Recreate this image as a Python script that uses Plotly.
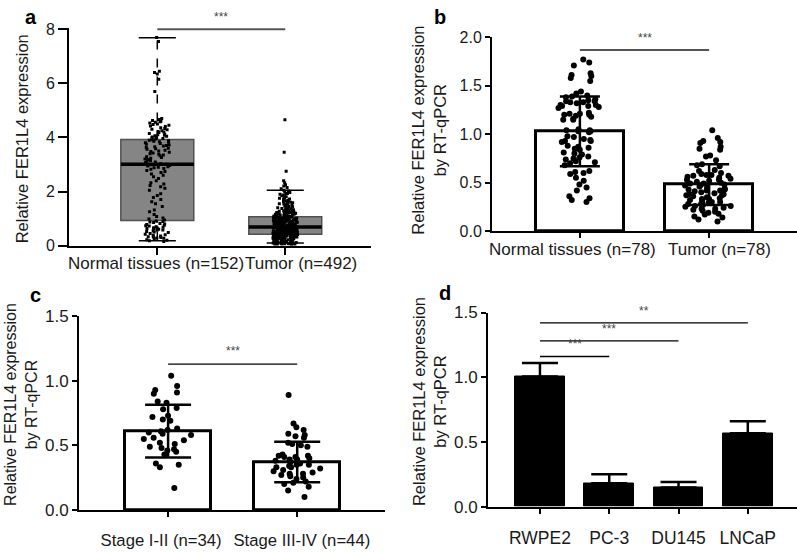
import plotly.graph_objects as go

FONT = "Liberation Sans, Arial, sans-serif"
TXT = "#1a1a1a"
NB = "\u00a0"

# ---------------- Panel a data ----------------
a_cats = ["Normal tissues (n=152)", "Tumor (n=492)"]
a_q1 = [0.93, 0.42]
a_median = [3.01, 0.69]
a_q3 = [3.92, 1.07]
a_lower = [0.18, 0.10]
a_upper = [7.69, 2.05]
a_normal = [
    0.15, 0.18, 0.20, 0.22, 0.25, 0.27, 0.28, 0.30, 0.32, 0.33, 0.35, 0.38, 0.40, 0.42, 0.45, 0.48,
    0.50, 0.52, 0.55, 0.57, 0.58, 0.60, 0.62, 0.63, 0.65, 0.66, 0.68, 0.70, 0.72, 0.73, 0.75, 0.78,
    0.80, 0.82, 0.85, 0.87, 0.89, 0.91,
    0.95, 0.98, 1.02, 1.08, 1.15, 1.25, 1.32, 1.45, 1.55, 1.62, 1.70, 1.78, 1.85, 1.92, 2.05, 2.12,
    2.18, 2.22, 2.28, 2.32, 2.40, 2.48, 2.55, 2.60, 2.65, 2.70, 2.74, 2.78, 2.82, 2.85, 2.88, 2.90,
    2.92, 2.94, 2.96, 2.97, 2.98, 2.99,
    3.01, 3.03, 3.05, 3.07, 3.09, 3.12, 3.15, 3.18, 3.20, 3.23, 3.26, 3.29, 3.32, 3.35, 3.38, 3.40,
    3.42, 3.45, 3.48, 3.50, 3.53, 3.56, 3.58, 3.60, 3.63, 3.66, 3.68, 3.70, 3.72, 3.75, 3.78, 3.80,
    3.82, 3.84, 3.86, 3.88, 3.90, 3.91,
    3.94, 3.96, 3.98, 4.00, 4.02, 4.04, 4.06, 4.08, 4.10, 4.12, 4.15, 4.18, 4.20, 4.22, 4.25, 4.28,
    4.30, 4.33, 4.36, 4.40, 4.42, 4.45, 4.48, 4.50, 4.53, 4.56, 4.58, 4.60, 4.63, 4.66, 4.70, 5.70,
    6.15, 6.35, 6.40, 6.45, 7.55, 7.70,
]
a_tumor = [
    0.02, 0.03, 0.03, 0.04, 0.05, 0.05, 0.06, 0.07, 0.08, 0.08, 0.09, 0.10, 0.10, 0.11, 0.12, 0.12,
    0.13, 0.14, 0.14, 0.15, 0.16, 0.16, 0.17, 0.18, 0.18, 0.19, 0.20, 0.20, 0.21, 0.21, 0.22, 0.23,
    0.23, 0.24, 0.24, 0.25, 0.26, 0.26, 0.27, 0.27, 0.28, 0.28, 0.29, 0.29, 0.30, 0.30, 0.31, 0.31,
    0.32, 0.32, 0.33, 0.33, 0.34, 0.34, 0.35, 0.35, 0.36, 0.36, 0.37, 0.37, 0.38, 0.38, 0.39, 0.39,
    0.40, 0.40, 0.41, 0.41, 0.42, 0.42, 0.06, 0.11, 0.19, 0.25, 0.33,
    0.43, 0.43, 0.44, 0.44, 0.45, 0.45, 0.46, 0.46, 0.47, 0.47, 0.48, 0.48, 0.49, 0.49, 0.50, 0.50,
    0.51, 0.51, 0.52, 0.52, 0.53, 0.53, 0.54, 0.54, 0.55, 0.55, 0.56, 0.56, 0.57, 0.57, 0.58, 0.58,
    0.59, 0.59, 0.60, 0.60, 0.61, 0.61, 0.62, 0.62, 0.63, 0.63, 0.64, 0.64, 0.65, 0.65, 0.66, 0.66,
    0.67, 0.67, 0.68, 0.68, 0.435, 0.455, 0.475, 0.495, 0.515, 0.535, 0.555, 0.575, 0.595, 0.615,
    0.635, 0.655, 0.675, 0.445, 0.485, 0.525, 0.565, 0.605, 0.645, 0.465, 0.545, 0.625, 0.505,
    0.69, 0.70, 0.71, 0.72, 0.73, 0.74, 0.75, 0.76, 0.77, 0.78, 0.79, 0.80, 0.81, 0.82, 0.83, 0.84,
    0.85, 0.86, 0.87, 0.88, 0.89, 0.90, 0.91, 0.92, 0.93, 0.94, 0.95, 0.96, 0.97, 0.98, 0.99, 1.00,
    1.01, 1.02, 1.03, 1.04, 1.05, 1.06, 1.07, 1.08, 0.695, 0.715, 0.735, 0.755, 0.775, 0.795, 0.815,
    0.835, 0.855, 0.875, 0.895, 0.915, 0.935, 0.955, 0.975, 0.995, 1.015, 1.035, 1.055, 1.075,
    0.705, 0.745, 0.785, 0.825, 0.865, 0.905, 0.945, 0.985, 1.025, 1.065, 0.725, 0.805, 0.885,
    0.965, 1.045,
    1.09, 1.10, 1.11, 1.12, 1.13, 1.14, 1.15, 1.16, 1.17, 1.18, 1.19, 1.20, 1.21, 1.22, 1.23, 1.24,
    1.25, 1.26, 1.27, 1.28, 1.29, 1.30, 1.31, 1.32, 1.34, 1.36, 1.38, 1.40, 1.42, 1.44, 1.46, 1.48,
    1.50, 1.52, 1.54, 1.56, 1.58, 1.60, 1.62, 1.64, 1.66, 1.68, 1.70, 1.72, 1.75, 1.78, 1.81, 1.84,
    1.87, 1.90, 1.93, 1.96, 1.99, 2.02, 2.05, 1.105, 1.135, 1.165, 1.195, 1.225, 1.255, 1.285, 1.33,
    1.37, 1.45, 1.55, 1.65, 2.10, 2.15, 2.20, 2.25, 2.32, 2.40, 2.75, 3.45, 4.65,
]

# ---------------- Panel b data ----------------
b_cats = ["Normal tissues (n=78)", "Tumor (n=78)"]
b_mean = [1.03, 0.48]
b_sd = [0.36, 0.21]
b_normal = [
    1.77, 1.74, 1.71, 1.63, 1.61, 1.60, 1.58, 1.55, 1.44, 1.42, 1.40, 1.39, 1.38, 1.36, 1.35, 1.34,
    1.34, 1.33, 1.33, 1.32, 1.30, 1.30, 1.29, 1.29, 1.28, 1.27, 1.22, 1.21, 1.21, 1.20, 1.20, 1.19,
    1.18, 1.16, 1.15, 1.15, 1.05, 1.04, 1.04, 1.03, 1.03, 1.02, 0.98, 0.97, 0.95, 0.94, 0.93, 0.93,
    0.92, 0.88, 0.87, 0.86, 0.85, 0.84, 0.81, 0.80, 0.79, 0.77, 0.76, 0.75, 0.74, 0.72, 0.71, 0.70,
    0.68, 0.62, 0.61, 0.60, 0.59, 0.55, 0.52, 0.48, 0.45, 0.42, 0.36, 0.34, 0.32, 0.30,
]
b_tumor = [
    1.04, 0.96, 0.93, 0.92, 0.91, 0.87, 0.85, 0.84, 0.78, 0.77, 0.73, 0.69, 0.68, 0.67, 0.63, 0.62,
    0.60, 0.59, 0.58, 0.58, 0.57, 0.57, 0.56, 0.55, 0.54, 0.53, 0.53, 0.52, 0.51, 0.50, 0.49, 0.49,
    0.48, 0.47, 0.47, 0.46, 0.45, 0.44, 0.43, 0.43, 0.42, 0.42, 0.41, 0.40, 0.39, 0.38, 0.38, 0.37,
    0.37, 0.36, 0.35, 0.34, 0.33, 0.33, 0.32, 0.31, 0.30, 0.30, 0.29, 0.28, 0.28, 0.27, 0.26, 0.25,
    0.24, 0.23, 0.23, 0.22, 0.21, 0.20, 0.19, 0.18, 0.17, 0.15, 0.14, 0.12, 0.10, 0.26,
]

# ---------------- Panel c data ----------------
c_cats = ["Stage I-II (n=34)", "Stage III-IV (n=44)"]
c_mean = [0.61, 0.372]
c_sd = [0.204, 0.157]
c_stage12 = [
    1.04, 0.96, 0.93, 0.91, 0.90, 0.84, 0.83, 0.79, 0.78, 0.73, 0.72, 0.70, 0.69, 0.63, 0.62, 0.61,
    0.60, 0.59, 0.58, 0.56, 0.55, 0.54, 0.52, 0.51, 0.49, 0.48, 0.47, 0.46, 0.45, 0.43, 0.36, 0.35,
    0.33, 0.17,
]
c_stage34 = [
    0.89, 0.67, 0.64, 0.62, 0.59, 0.58, 0.57, 0.56, 0.52, 0.51, 0.50, 0.49, 0.43, 0.42, 0.42, 0.41,
    0.41, 0.40, 0.39, 0.39, 0.38, 0.37, 0.36, 0.35, 0.35, 0.34, 0.33, 0.33, 0.32, 0.31, 0.30, 0.29,
    0.28, 0.28, 0.27, 0.26, 0.25, 0.24, 0.22, 0.21, 0.20, 0.18, 0.15, 0.10,
]

# ---------------- Panel d data ----------------
d_cats = ["RWPE2", "PC-3", "DU145", "LNCaP"]
d_mean = [1.005, 0.18, 0.147, 0.567]
d_err = [0.105, 0.07, 0.043, 0.093]

# significance brackets: (from index, to index, y, label)
sig_a = [(0, 1, 8.0, "***")]
sig_b = [(0, 1, 1.87, "***")]
sig_c = [(0, 1, 1.13, "***")]
sig_d = [(0, 3, 1.42, "**"), (0, 2, 1.28, "***"), (0, 1, 1.16, "***")]

fig = go.Figure()

# ===== Panel a: box plot with points =====
fig.add_trace(go.Box(
    x=list(range(len(a_cats))), q1=a_q1, median=a_median, q3=a_q3,
    lowerfence=a_q1, upperfence=a_q3, width=0.57, whiskerwidth=0,
    fillcolor="#858585", line=dict(color="#505050", width=1.5),
    boxpoints=False, xaxis="x", yaxis="y", showlegend=False,
))
wx, wy, cx, cy, mx, my = [], [], [], [], [], []
for i in range(len(a_cats)):
    wx += [i, i, None, i, i, None]
    wy += [a_lower[i], a_q1[i], None, a_q3[i], a_upper[i], None]
    cx += [i - 0.145, i + 0.145, None, i - 0.145, i + 0.145, None]
    cy += [a_lower[i], a_lower[i], None, a_upper[i], a_upper[i], None]
    mx += [i - 0.285, i + 0.285, None]
    my += [a_median[i], a_median[i], None]
fig.add_trace(go.Scatter(x=wx, y=wy, mode="lines", line=dict(color="black", width=1.5, dash="dash"),
                         xaxis="x", yaxis="y", showlegend=False, hoverinfo="skip"))
fig.add_trace(go.Scatter(x=cx, y=cy, mode="lines", line=dict(color="black", width=1.5),
                         xaxis="x", yaxis="y", showlegend=False, hoverinfo="skip"))
fig.add_trace(go.Scatter(x=mx, y=my, mode="lines", line=dict(color="black", width=3.5),
                         xaxis="x", yaxis="y", showlegend=False, hoverinfo="skip"))
for i, vals in enumerate([a_normal, a_tumor]):
    fig.add_trace(go.Box(
        y=vals, x0=i, width=0.57, boxpoints="all", jitter=0.34, pointpos=0,
        fillcolor="rgba(0,0,0,0)", line=dict(color="rgba(0,0,0,0)", width=0),
        marker=dict(color="black", size=3, symbol="square"),
        xaxis="x", yaxis="y", showlegend=False,
    ))

# ===== Panel b: bars + dots =====
fig.add_trace(go.Bar(
    x=list(range(len(b_cats))), y=b_mean, width=0.68,
    marker=dict(color="white", line=dict(color="black", width=3)),
    error_y=dict(type="data", array=b_sd, visible=True, color="black", thickness=2.5, width=20),
    xaxis="x2", yaxis="y2", showlegend=False,
))
for i, vals in enumerate([b_normal, b_tumor]):
    fig.add_trace(go.Box(
        y=vals, x0=i, width=0.68, boxpoints="all", jitter=0.6, pointpos=0,
        fillcolor="rgba(0,0,0,0)", line=dict(color="rgba(0,0,0,0)", width=0),
        marker=dict(color="black", size=6),
        xaxis="x2", yaxis="y2", showlegend=False,
    ))

# ===== Panel c: bars + dots =====
fig.add_trace(go.Bar(
    x=list(range(len(c_cats))), y=c_mean, width=0.67,
    marker=dict(color="white", line=dict(color="black", width=3)),
    error_y=dict(type="data", array=c_sd, visible=True, color="black", thickness=2.5, width=23),
    xaxis="x3", yaxis="y3", showlegend=False,
))
for i, vals in enumerate([c_stage12, c_stage34]):
    fig.add_trace(go.Box(
        y=vals, x0=i, width=0.67, boxpoints="all", jitter=0.6, pointpos=0,
        fillcolor="rgba(0,0,0,0)", line=dict(color="rgba(0,0,0,0)", width=0),
        marker=dict(color="black", size=6),
        xaxis="x3", yaxis="y3", showlegend=False,
    ))

# ===== Panel d: black bars with upper error bars =====
fig.add_trace(go.Bar(
    x=list(range(len(d_cats))), y=d_mean, width=0.72,
    marker=dict(color="black", line=dict(color="black", width=1)),
    error_y=dict(type="data", symmetric=False, array=d_err, arrayminus=[0] * len(d_err),
                 visible=True, color="black", thickness=2.5, width=18),
    xaxis="x4", yaxis="y4", showlegend=False,
))

# ===== significance lines =====
shapes, annotations = [], []
for sigs, xr, yr, col, lw, shift in [(sig_a, "x", "y", "#555555", 2, 3),
                                      (sig_b, "x2", "y2", "#555555", 2, 3),
                                      (sig_c, "x3", "y3", "black", 1.3, 4),
                                      (sig_d, "x4", "y4", "black", 1.3, 3)]:
    for i0, i1, yv, lab in sigs:
        shapes.append(dict(type="line", xref=xr, yref=yr, x0=i0, x1=i1, y0=yv, y1=yv,
                           line=dict(color=col, width=lw)))
        annotations.append(dict(x=(i0 + i1) / 2, y=yv, xref=xr, yref=yr, text=lab, showarrow=False,
                                yanchor="bottom", yshift=shift, font=dict(size=12, color="#444444", family=FONT)))

# category labels of panels a and b (set slightly apart, as in the original)
for cats, xr, yr, size, shifts in [(a_cats, "x", "y", 17, [-1, 16]),
                                    (b_cats, "x2", "y2", 17, [-7, 10])]:
    for i, lab in enumerate(cats):
        annotations.append(dict(x=i, y=0, xref=xr, yref=yr, text=lab, showarrow=False,
                                xanchor="center", yanchor="middle", xshift=shifts[i], yshift=-18,
                                font=dict(size=size, color=TXT, family=FONT)))

# panel letters
for lab, px, py in [("a", 31, 8), ("b", 440, 8), ("c", 35, 296), ("d", 445, 294)]:
    annotations.append(dict(x=px / 797, y=1 - py / 553, xref="paper", yref="paper", text="<b>%s</b>" % lab,
                            showarrow=False, xanchor="center", yanchor="middle",
                            font=dict(size=20, color="black", family=FONT)))
# y titles
for txt, px, py, fs in [("Relative FER1L4 expression", 22, 135, 16.5),
                         ("Relative FER1L4 expression<br>by RT-qPCR", 429, 125, 16.5),
                         ("Relative FER1L4 expression<br>by RT-qPCR", 21, 410, 16),
                         ("Relative FER1L4 expression<br>by RT-qPCR", 429, 406, 16.5)]:
    annotations.append(dict(x=px / 797, y=1 - py / 553, xref="paper", yref="paper", text=txt,
                            showarrow=False, textangle=-90, xanchor="center", yanchor="middle",
                            font=dict(size=fs, color=TXT, family=FONT)))


def ax(ticklen=5, size=16, standoff=0, **kw):
    d = dict(showline=True, linecolor="black", linewidth=2, ticks="outside", ticklen=ticklen,
             tickwidth=2, tickcolor="black", showgrid=False, zeroline=False, tickangle=0,
             ticklabelstandoff=standoff, tickfont=dict(size=size, color=TXT, family=FONT))
    d.update(kw)
    return d


c_ticktext = [c_cats[0] + NB * 3, NB * 2 + c_cats[1]]

fig.update_layout(
    width=797, height=553, margin=dict(l=0, r=0, t=0, b=0),
    paper_bgcolor="white", plot_bgcolor="white", showlegend=False,
    boxmode="overlay", bargap=0,
    xaxis=ax(7, 17, 0, domain=[69 / 797, 371 / 797], range=[-0.69, 1.67], tickvals=[0, 1],
             showticklabels=False, anchor="y"),
    yaxis=ax(9, 16, 0, domain=[1 - 245 / 553, 1 - 19.6 / 553], range=[0, 8.05], tickvals=[0, 2, 4, 6, 8],
             anchor="x"),
    xaxis2=ax(5, 17, 0, domain=[492 / 797, 1.0], range=[-0.68, 1.68], tickvals=[0, 1],
              showticklabels=False, anchor="y2"),
    yaxis2=ax(5, 16, 0, domain=[1 - 230 / 553, 1 - 29.3 / 553], range=[0, 2.0], tickvals=[0, 0.5, 1, 1.5, 2],
              tickformat=".1f", anchor="x2"),
    xaxis3=ax(5, 16.7, 9, domain=[79 / 797, 385 / 797], range=[-0.69, 1.68], tickvals=[0, 1],
              ticktext=c_ticktext, anchor="y3"),
    yaxis3=ax(5, 17, 0, domain=[1 - 518.7 / 553, 1 - 318.3 / 553], range=[0, 1.5], tickvals=[0, 0.5, 1, 1.5],
              tickformat=".1f", anchor="x3"),
    xaxis4=ax(5, 17.5, 9, domain=[488 / 797, 1.0], range=[-0.75, 3.71], tickvals=[0, 1, 2, 3],
              ticktext=d_cats, anchor="y4"),
    yaxis4=ax(5, 17, 0, domain=[1 - 515.3 / 553, 1 - 314.3 / 553], range=[0, 1.5], tickvals=[0, 0.5, 1, 1.5],
              tickformat=".1f", anchor="x4"),
    shapes=shapes, annotations=annotations,
)

fig.write_html("out.html", config={"displayModeBar": False},
               post_script="document.body.style.margin='0';")
